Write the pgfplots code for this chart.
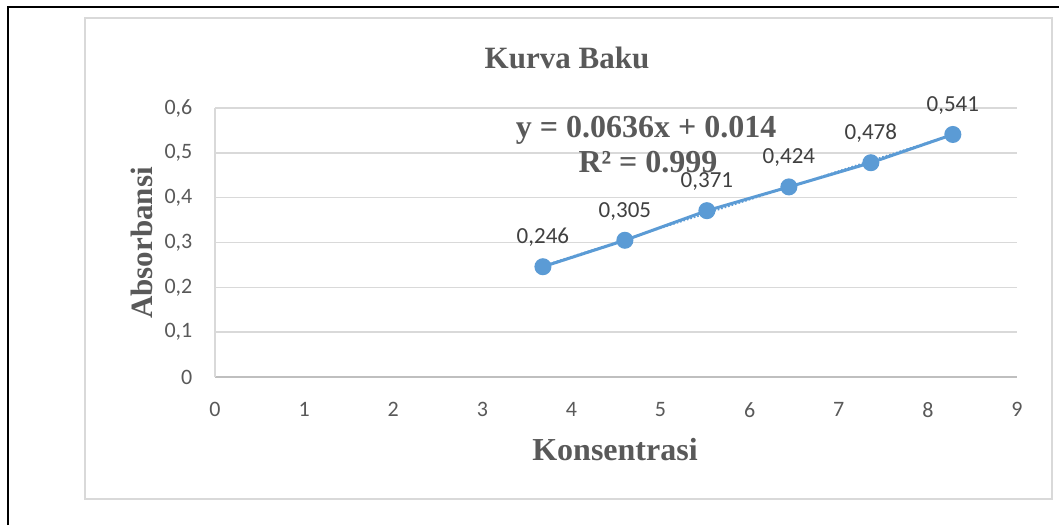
\documentclass[border=0pt]{standalone}
\usepackage{fontspec}
\setmainfont{Liberation Serif}
\newfontfamily\carlito{Carlito}
\usepackage{pgfplots}
\pgfplotsset{compat=1.18}
\definecolor{txt}{HTML}{595959}
\definecolor{lbl}{HTML}{404040}
\definecolor{grd}{HTML}{D9D9D9}
\definecolor{axl}{HTML}{BFBFBF}
\definecolor{blu}{HTML}{5B9BD5}
\begin{document}
\begin{tikzpicture}
\useasboundingbox (0,0) rectangle (529.5pt,-262.5pt);
\fill[white] (0,0) rectangle (529.5pt,-262.5pt);
\draw[line width=1pt] (4pt,-262.5pt) -- (4pt,-3.5pt) -- (529.5pt,-3.5pt);
\draw[grd, line width=0.8pt] (42.5pt,-9pt) rectangle (526pt,-249.5pt);
\begin{axis}[
  at={(107.5pt,-188.5pt)}, anchor=south west,
  scale only axis, width=401pt, height=134.5pt,
  xmin=0, xmax=9, ymin=0, ymax=0.6,
  xtick={0,1,2,3,4,5,6,7,8,9},
  ytick={0,0.1,0.2,0.3,0.4,0.5,0.6},
  axis x line*=bottom, axis y line*=left,
  x axis line style={-, draw=axl, line width=0.8pt},
  y axis line style={-, draw=grd, line width=0.8pt},
  ymajorgrids, grid style={grd, line width=0.8pt},
  major tick length=0pt,
  /pgf/number format/.cd, use comma, 1000 sep={}, assume math mode=true,
  /pgfplots/.cd,
  ticklabel style={font=\carlito\fontsize{11}{13}\selectfont, color=txt},
  xticklabel style={anchor=north, yshift=-9.3pt},
  yticklabel style={anchor=east, xshift=-7.8pt},
  clip=false,
]
\addplot[blu, densely dotted, line width=0.8pt] coordinates {(3.68,0.248) (8.28,0.541)};
\addplot[blu, line width=1.5pt, mark=*, mark size=3.5pt, mark options={fill=blu, draw=blu},
  nodes near coords={\pgfmathprintnumber[fixed,fixed zerofill,precision=3,use comma]{\pgfplotspointmeta}},
  nodes near coords style={font=\carlito\fontsize{11.5}{13}\selectfont, color=lbl, anchor=base, inner sep=0pt, yshift=11.5pt},
] coordinates {
(3.68,0.246) (4.60,0.305) (5.52,0.371) (6.44,0.424) (7.36,0.478) (8.28,0.541)
};
\end{axis}
\node[anchor=base, font=\bfseries\fontsize{16}{18}\selectfont, text=txt] at (323pt,-68.5pt) {y = 0.0636x + 0.014};
\node[anchor=base, font=\bfseries\fontsize{16}{18}\selectfont, text=txt] at (324pt,-86pt) {R² = 0.999};
\node[anchor=base, font=\bfseries\fontsize{15.5}{18}\selectfont, text=txt] at (283.5pt,-34pt) {Kurva Baku};
\node[anchor=base, font=\bfseries\fontsize{16}{18}\selectfont, text=txt] at (307.5pt,-230pt) {Konsentrasi};
\node[anchor=base, rotate=90, font=\bfseries\fontsize{15.5}{18}\selectfont, text=txt] at (76pt,-121.5pt) {Absorbansi};
\end{tikzpicture}
\end{document}
